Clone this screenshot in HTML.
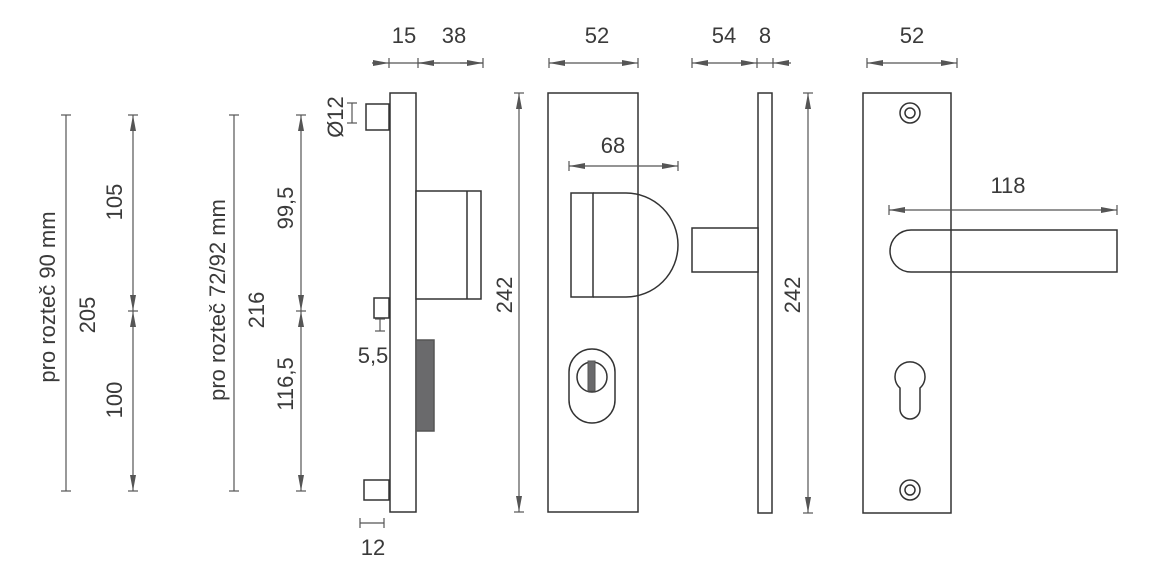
<!DOCTYPE html>
<html><head><meta charset="utf-8"><style>
html,body{margin:0;padding:0;background:#fff}
svg{display:block}
text{font-family:"Liberation Sans",sans-serif;font-size:22px;fill:#3a3a3a}
</style></head><body>
<svg width="1160" height="577" viewBox="0 0 1160 577" xmlns="http://www.w3.org/2000/svg">
<defs>
<marker id="a" markerWidth="16" markerHeight="8" refX="16" refY="4" orient="auto" markerUnits="userSpaceOnUse"><path d="M0,1 L16,4 L0,7 Z" fill="#555"/></marker>
<marker id="b" markerWidth="16" markerHeight="8" refX="0" refY="4" orient="auto" markerUnits="userSpaceOnUse"><path d="M16,1 L0,4 L16,7 Z" fill="#555"/></marker>
</defs>
<g stroke="#333" stroke-width="1.5" fill="#fff">
<!-- side view -->
<rect x="390" y="93" width="26" height="419"/>
<rect x="366" y="104" width="23" height="26"/>
<rect x="374" y="298" width="15" height="20"/>
<rect x="364" y="480" width="25" height="20"/>
<rect x="416" y="191" width="65" height="108"/>
<line x1="467" y1="191" x2="467" y2="299"/>
<rect x="416" y="340" width="18" height="91" fill="#6a6a6c" stroke="#555"/>
<!-- front plate -->
<rect x="548" y="93" width="90" height="419"/>
<path d="M593,193 L626,193 A52,52 0 0 1 626,297 L593,297" fill="none"/>
<rect x="571" y="193" width="22" height="104"/>
<rect x="569" y="349" width="46" height="74" rx="23"/>
<circle cx="592" cy="377" r="15"/>
<rect x="588" y="361" width="7" height="30" fill="#6a6a6c" stroke="#555" stroke-width="1"/>
<!-- side view 2 -->
<rect x="758" y="93" width="14" height="420"/>
<rect x="692" y="228" width="66" height="44"/>
<!-- right plate -->
<rect x="863" y="93" width="88" height="420"/>
<path d="M911,230 L1117,230 L1117,272 L911,272 A21,21 0 0 1 911,230 Z" fill="none"/>
<circle cx="910" cy="113" r="10"/><circle cx="910" cy="113" r="5"/>
<circle cx="910" cy="490" r="10"/><circle cx="910" cy="490" r="5"/>
<path d="M900,388 A15,15 0 1 1 920,388 L920,409 A10,10 0 0 1 900,409 Z"/>
</g>
<g stroke="#555" stroke-width="1.2" fill="none">
<line x1="66" y1="115" x2="66" y2="491"/><line x1="61" y1="115" x2="71" y2="115"/><line x1="61" y1="491" x2="71" y2="491"/>
<line x1="133" y1="115" x2="133" y2="311" marker-start="url(#b)" marker-end="url(#a)"/>
<line x1="133" y1="311" x2="133" y2="491" marker-start="url(#b)" marker-end="url(#a)"/>
<line x1="128" y1="115" x2="138" y2="115"/><line x1="128" y1="311" x2="138" y2="311"/><line x1="128" y1="491" x2="138" y2="491"/>
<line x1="234" y1="115" x2="234" y2="491"/><line x1="229" y1="115" x2="239" y2="115"/><line x1="229" y1="491" x2="239" y2="491"/>
<line x1="301" y1="115" x2="301" y2="311" marker-start="url(#b)" marker-end="url(#a)"/>
<line x1="301" y1="311" x2="301" y2="491" marker-start="url(#b)" marker-end="url(#a)"/>
<line x1="296" y1="115" x2="306" y2="115"/><line x1="296" y1="311" x2="306" y2="311"/><line x1="296" y1="491" x2="306" y2="491"/>
<line x1="372" y1="63" x2="389" y2="63" marker-end="url(#a)"/>
<line x1="389" y1="63" x2="483" y2="63"/>
<line x1="418" y1="63" x2="440" y2="63" marker-start="url(#b)"/>
<line x1="460" y1="63" x2="483" y2="63" marker-end="url(#a)"/>
<line x1="389" y1="58" x2="389" y2="68"/><line x1="418" y1="58" x2="418" y2="68"/><line x1="483" y1="58" x2="483" y2="68"/>
<line x1="352" y1="103" x2="352" y2="123"/><line x1="347" y1="103" x2="357" y2="103"/><line x1="347" y1="123" x2="357" y2="123"/>
<line x1="380" y1="319" x2="380" y2="331"/><line x1="375" y1="319" x2="385" y2="319"/><line x1="375" y1="331" x2="385" y2="331"/>
<line x1="360" y1="523" x2="384" y2="523"/><line x1="360" y1="518" x2="360" y2="528"/><line x1="384" y1="518" x2="384" y2="528"/>
<line x1="519" y1="93" x2="519" y2="512" marker-start="url(#b)" marker-end="url(#a)"/>
<line x1="514" y1="93" x2="524" y2="93"/><line x1="514" y1="512" x2="524" y2="512"/>
<line x1="549" y1="63" x2="638" y2="63" marker-start="url(#b)" marker-end="url(#a)"/>
<line x1="549" y1="58" x2="549" y2="68"/><line x1="638" y1="58" x2="638" y2="68"/>
<line x1="569" y1="166" x2="678" y2="166" marker-start="url(#b)" marker-end="url(#a)"/>
<line x1="569" y1="161" x2="569" y2="171"/><line x1="678" y1="161" x2="678" y2="171"/>
<line x1="692" y1="63" x2="757" y2="63" marker-start="url(#b)" marker-end="url(#a)"/>
<line x1="757" y1="63" x2="773" y2="63"/>
<line x1="773" y1="63" x2="791" y2="63" marker-start="url(#b)"/>
<line x1="692" y1="58" x2="692" y2="68"/><line x1="757" y1="58" x2="757" y2="68"/><line x1="773" y1="58" x2="773" y2="68"/>
<line x1="808" y1="93" x2="808" y2="513" marker-start="url(#b)" marker-end="url(#a)"/>
<line x1="803" y1="93" x2="813" y2="93"/><line x1="803" y1="513" x2="813" y2="513"/>
<line x1="867" y1="63" x2="957" y2="63" marker-start="url(#b)" marker-end="url(#a)"/>
<line x1="867" y1="58" x2="867" y2="68"/><line x1="957" y1="58" x2="957" y2="68"/>
<line x1="889" y1="210" x2="1117" y2="210" marker-start="url(#b)" marker-end="url(#a)"/>
<line x1="889" y1="205" x2="889" y2="215"/><line x1="1117" y1="205" x2="1117" y2="215"/>
</g>
<g>
<text x="48" y="297" text-anchor="middle" transform="rotate(-90 48 297)" dy="7">pro rozteč 90 mm</text>
<text x="115" y="202" text-anchor="middle" transform="rotate(-90 115 202)" dy="7">105</text>
<text x="88" y="315" text-anchor="middle" transform="rotate(-90 88 315)" dy="7">205</text>
<text x="115" y="400" text-anchor="middle" transform="rotate(-90 115 400)" dy="7">100</text>
<text x="218" y="300" text-anchor="middle" transform="rotate(-90 218 300)" dy="7">pro rozteč 72/92 mm</text>
<text x="257" y="310" text-anchor="middle" transform="rotate(-90 257 310)" dy="7">216</text>
<text x="286" y="208" text-anchor="middle" transform="rotate(-90 286 208)" dy="7">99,5</text>
<text x="286" y="384" text-anchor="middle" transform="rotate(-90 286 384)" dy="7">116,5</text>
<text x="336" y="117" text-anchor="middle" transform="rotate(-90 336 117)" dy="7">Ø12</text>
<text x="373" y="363" text-anchor="middle">5,5</text>
<text x="373" y="555" text-anchor="middle">12</text>
<text x="404" y="43" text-anchor="middle">15</text>
<text x="454" y="43" text-anchor="middle">38</text>
<text x="505" y="295" text-anchor="middle" transform="rotate(-90 505 295)" dy="7">242</text>
<text x="597" y="43" text-anchor="middle">52</text>
<text x="613" y="153" text-anchor="middle">68</text>
<text x="724" y="43" text-anchor="middle">54</text>
<text x="765" y="43" text-anchor="middle">8</text>
<text x="793" y="295" text-anchor="middle" transform="rotate(-90 793 295)" dy="7">242</text>
<text x="912" y="43" text-anchor="middle">52</text>
<text x="1008" y="193" text-anchor="middle">118</text>
</g>
</svg>
</body></html>
